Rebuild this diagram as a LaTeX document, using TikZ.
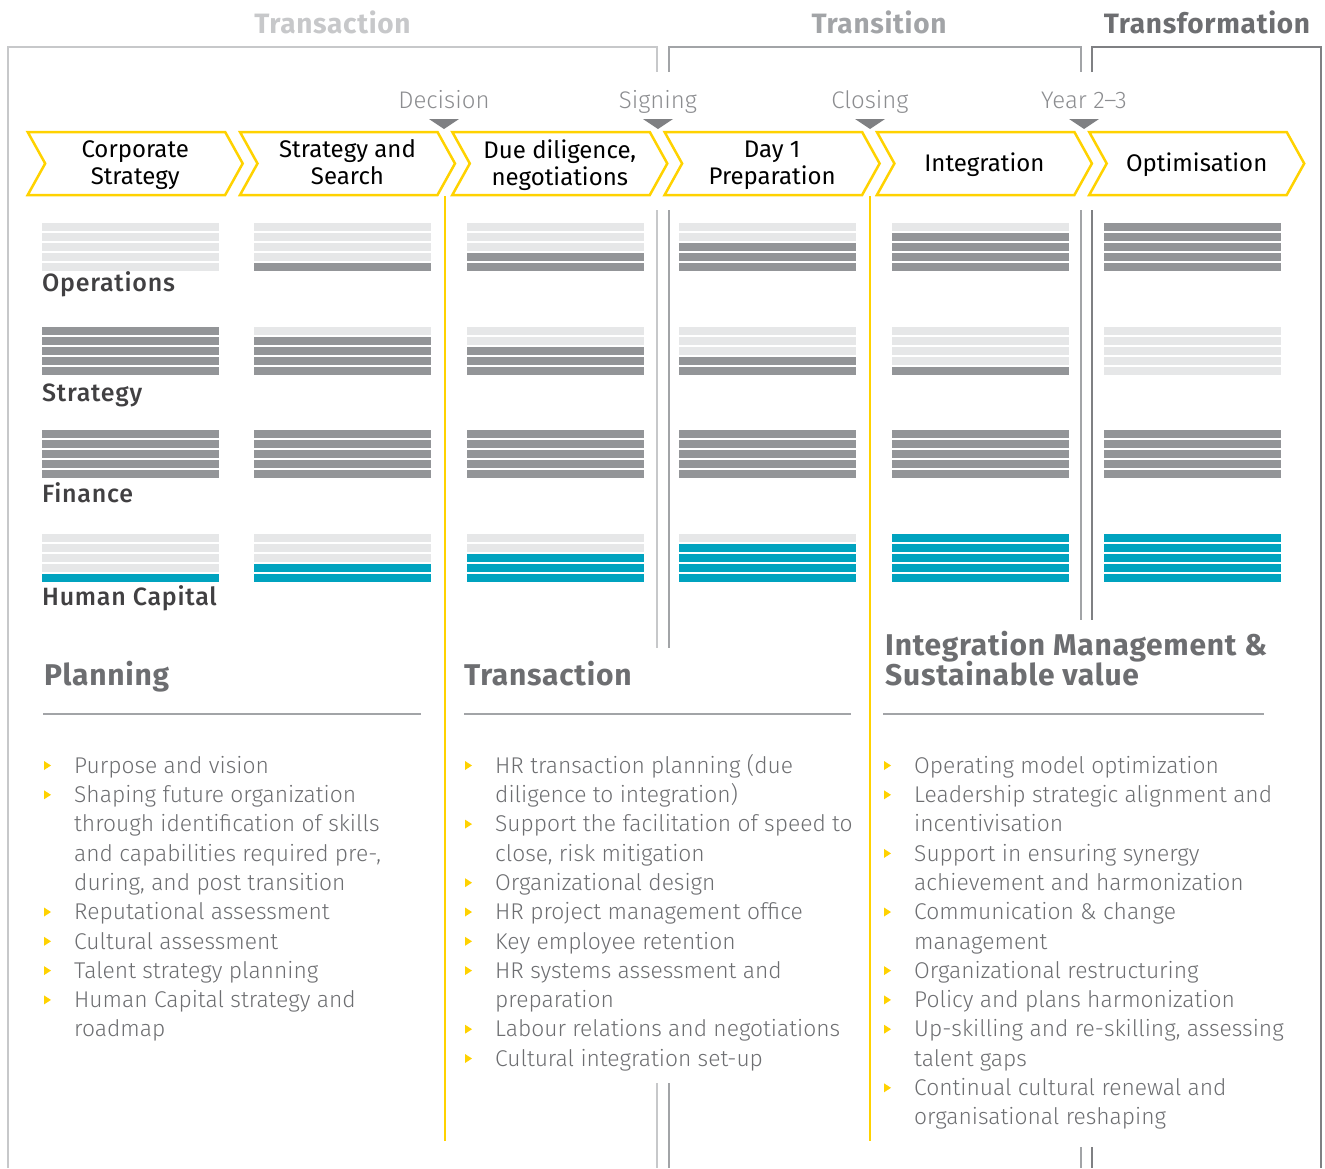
\documentclass[tikz,border=0pt]{standalone}
\usepackage{fontspec}
\setmainfont{Fira Sans}
\newfontfamily\lightfont{Fira Sans Light}
\newfontfamily\mediumfont{Fira Sans Medium}[LetterSpace=3]
\newfontfamily\headfont{Fira Sans Bold}[LetterSpace=2.5]
\usetikzlibrary{calc}

\definecolor{eyyellow}{HTML}{FFD200}
\definecolor{barlight}{HTML}{E6E7E8}
\definecolor{bardark}{HTML}{939598}
\definecolor{barteal}{HTML}{00A3BF}
\definecolor{textgray}{HTML}{6D6E71}
\definecolor{labeldark}{HTML}{414042}
\definecolor{milegray}{HTML}{8C8D90}
\definecolor{bracketA}{HTML}{C7C8CA}
\definecolor{bracketB}{HTML}{A2A4A7}
\definecolor{bracketC}{HTML}{7F8083}

\begin{document}
\begin{tikzpicture}[x=1pt,y=-1pt]
\tikzstyle{every node}=[inner sep=0pt]
\tikzstyle{stage}=[font=\headfont\fontsize{28}{30}\selectfont]
\tikzstyle{phase}=[font=\fontsize{24}{27}\selectfont, align=center, text=black]
\tikzstyle{chevron}=[draw=eyyellow, line width=2.5pt]
\tikzstyle{milestone}=[font=\lightfont\fontsize{24}{27}\selectfont, text=milegray, anchor=base]
\tikzstyle{milemark}=[fill=bracketC]
\tikzstyle{rowlabel}=[font=\mediumfont\fontsize{25}{27}\selectfont, text=labeldark, anchor=base west]
\tikzstyle{heading}=[font=\headfont\fontsize{30}{30}\selectfont, text=textgray, anchor=base west]
\tikzstyle{headrule}=[draw=bracketB, line width=2.5pt]
\tikzstyle{bullettext}=[font=\lightfont\fontsize{22.8}{29.3}\selectfont, text=textgray, align=left, anchor=north west]
\tikzstyle{yellowline}=[draw=eyyellow, line width=2.5pt]

\useasboundingbox (0,0) rectangle (1325,1168);

% brackets
\draw[bracketA, line width=2.5pt] (8,1168) -- (8,47) -- (657,47) -- (657,72);
\draw[bracketA, line width=2.5pt] (657,210) -- (657,648) (657,1083) -- (657,1168);
\draw[bracketB, line width=2.5pt] (669,72) -- (669,47) -- (1081,47) -- (1081,72);
\draw[bracketB, line width=2.5pt] (669,210) -- (669,648) (669,1083) -- (669,1168);
\draw[bracketB, line width=2.5pt] (1081,210) -- (1081,620) (1081,1147) -- (1081,1168);
\draw[bracketC, line width=2.5pt] (1092,72) -- (1092,47) -- (1321,47) -- (1321,1168);
\draw[bracketC, line width=2.5pt] (1092,210) -- (1092,620) (1092,1147) -- (1092,1168);

\node[stage, text=bracketA] (transaction) at (332.5,22) {Transaction};
\node[stage, text=bracketB] (transition) at (879,22) {Transition};
\node[stage, text=textgray] (transformation) at (1207,22) {Transformation};

% milestones
\foreach \x/\name/\lbl in {444/decision/Decision, 658/signing/Signing, 870/closing/Closing, 1084/year/Year 2\textendash 3} {
	\fill[milemark] (\x-15,119) -- (\x+15,119) -- (\x,129) -- cycle;
	\node[milestone] (\name) at (\x,108) {\lbl};
}

% phases
\foreach \k/\txt in {1/{Corporate\\Strategy}, 2/{Strategy and\\Search}, 3/{Due diligence,\\negotiations}, 4/{Day 1\\Preparation}, 5/{Integration}, 6/{Optimisation}} {
	\pgfmathsetmacro\L{27.7+212.3*(\k-1)}
	\draw[chevron] (\L,132) -- ++(197.5,0) -- ++(17.5,31.5) -- ++(-17.5,31.5) -- ++(-197.5,0) -- ++(17.5,-31.5) -- cycle;
	\node[phase] (phase\k) at (\L+107.5,165) {\txt\vphantom{y}};
}

\draw[yellowline] (445,196) -- (445,1141);
\draw[yellowline] (870,196) -- (870,1141);

% bars
\foreach \ytop/\fillc/\counts in {223/bardark/{0,1,2,3,4,5}, 327/bardark/{5,4,3,2,1,0}, 430/bardark/{5,5,5,5,5,5}, 534/barteal/{1,2,3,4,5,5}} {
	\foreach \n [count=\k from 0] in \counts {
		\foreach \i in {1,...,5} {
			\ifnum\i>\numexpr5-\n\relax \edef\bc{\fillc}\else \edef\bc{barlight}\fi
			\fill[fill=\bc] (42+212.4*\k,\ytop+10*\i-10) rectangle ++(177,7.8);
		}
	}
}

\node[rowlabel] (operations) at (42,291) {Operations};
\node[rowlabel] (strategy) at (42,401) {Strategy};
\node[rowlabel] (finance) at (42,502) {Finance};
\node[rowlabel] (humancapital) at (42,605) {Human Capital};

% headings
\node[heading] (planning) at (44,685) {Planning};
\node[heading] (transact) at (464,685) {Transaction};
\node[heading, align=left, anchor=north west] (integration) at (885,631) {Integration Management \&\\[-2pt]Sustainable value};
\draw[headrule] (43,714) -- (421,714);
\draw[headrule] (464,714) -- (851,714);
\draw[headrule] (883,714) -- (1264,714);

% bullet lists
\foreach \col/\j/\name/\txt in {
	74/0/pa/{Purpose and vision},
	74/1/pb/{Shaping future organization\\through identification of skills\\and capabilities required pre-,\\during, and post transition},
	74/5/pc/{Reputational assessment},
	74/6/pd/{Cultural assessment},
	74/7/pe/{Talent strategy planning},
	74/8/pf/{Human Capital strategy and\\roadmap},
	495/0/ta/{HR transaction planning (due\\diligence to integration)},
	495/2/tb/{Support the facilitation of speed to\\close, risk mitigation},
	495/4/tc/{Organizational design},
	495/5/td/{HR project management office},
	495/6/te/{Key employee retention},
	495/7/tf/{HR systems assessment and\\preparation},
	495/9/tg/{Labour relations and negotiations},
	495/10/th/{Cultural integration set-up},
	914/0/ia/{Operating model optimization},
	914/1/ib/{Leadership strategic alignment and\\incentivisation},
	914/3/ic/{Support in ensuring synergy\\achievement and harmonization},
	914/5/id/{Communication \& change\\management},
	914/7/ie/{Organizational restructuring},
	914/8/if/{Policy and plans harmonization},
	914/9/ig/{Up-skilling and re-skilling, assessing\\talent gaps},
	914/11/ih/{Continual cultural renewal and\\organisational reshaping}} {
	\node[bullettext] (\name) at (\col,752.5+29.3*\j) {\strut\txt};
	\fill[eyyellow] ($(\name.north west)+(-30,8.5)$) -- ++(0,9) -- ++(7,-4.5) -- cycle;
}

\end{tikzpicture}
\end{document}
